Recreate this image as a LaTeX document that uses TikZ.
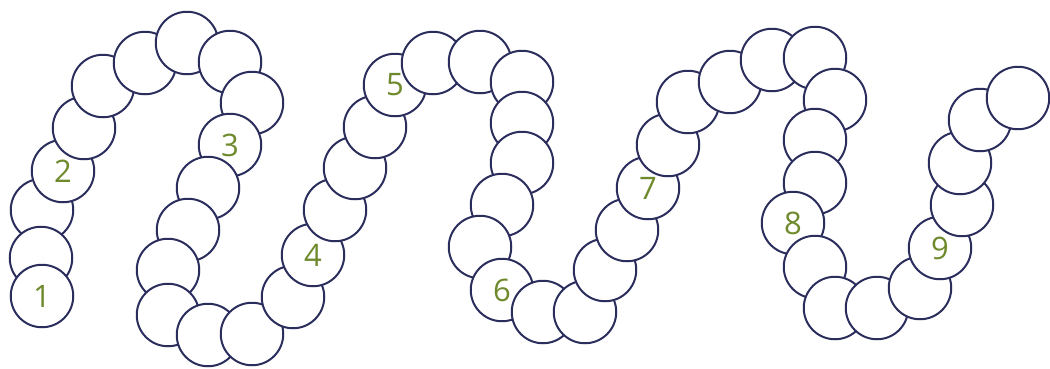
\documentclass[tikz,border=0pt]{standalone}
\usepackage{fontspec}
\newfontfamily\beadfont{Open Sans}
\definecolor{BeadInk}{HTML}{2B2E5C}
\definecolor{BeadGreen}{HTML}{6F8A2C}
\begin{document}
\begin{tikzpicture}[x=1pt,y=-1pt,bead/.style={circle,draw=BeadInk,fill=white,line width=2pt,minimum size=62.5pt,inner sep=0pt,text=BeadGreen,font=\beadfont\fontsize{31}{31}\selectfont}]
\useasboundingbox (0,0) rectangle (1050,368);
\foreach \x/\y/\lab [count=\i] in {42/210/{},41/258/{},42/296/1,63/171/2,84/128/{},103/86/{},145/63/{},187/43/{},230/62/{},252/103/{},230/145/3,208/188/{},188/230/{},168/270/{},168/315/{},208/335/{},252/334/{},293/297/{},313/255/4,335/210/{},355/168/{},375/127/{},395/85/5,433/63/{},480/62/{},522/82/{},522/123/{},522/163/{},502/205/{},480/247/{},502/290/6,543/312/{},585/312/{},605/270/{},627/230/{},648/188/7,668/145/{},688/102/{},730/82/{},772/60/{},815/58/{},835/100/{},815/140/{},815/183/{},793/223/8,815/267/{},835/308/{},877/308/{},920/288/{},940/248/9,962/205/{},960/163/{},980/120/{},1018/98/{}}{\node[bead] (b\i) at (\x,\y) {\lab};}
\end{tikzpicture}
\end{document}
